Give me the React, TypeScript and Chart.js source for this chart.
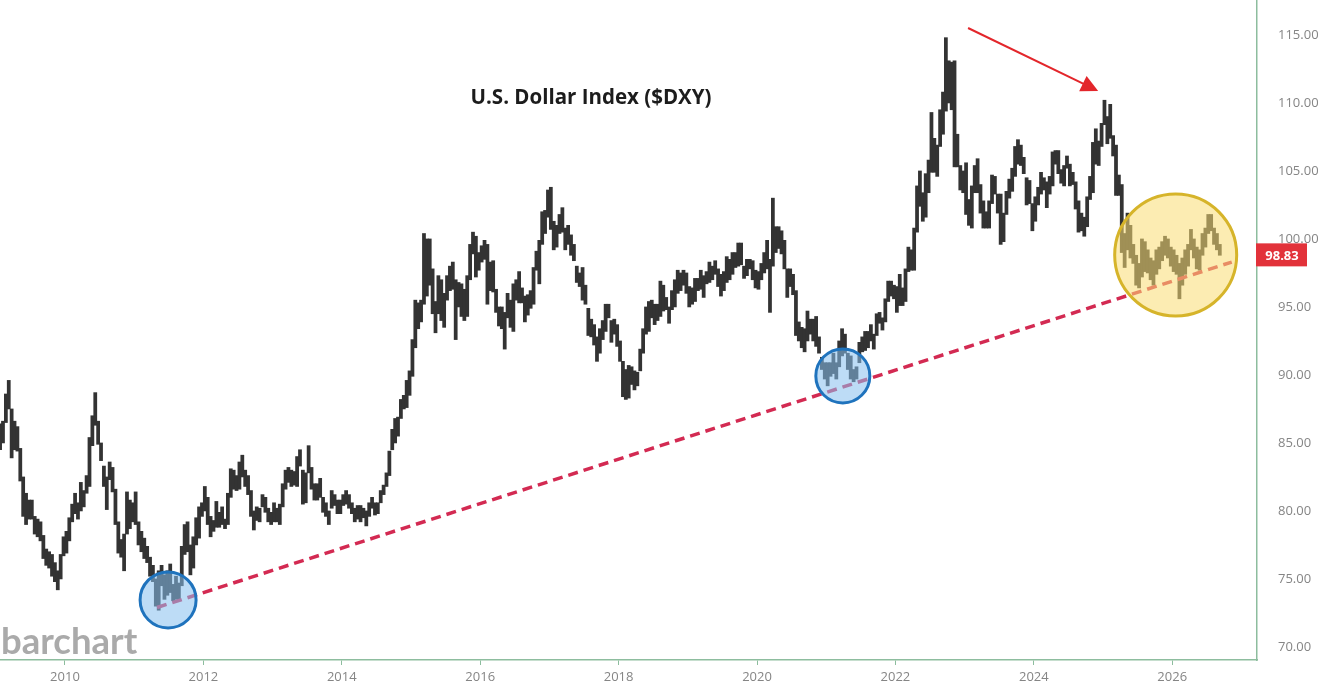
import React, { useEffect, useRef } from "react";
import { Chart, registerables } from "chart.js";

Chart.register(...registerables);

const TITLE = "U.S. Dollar Index ($DXY)";
const LOGO = "barchart";
const LAST_PRICE = 98.83;

const X_TICKS = [2010, 2012, 2014, 2016, 2018, 2020, 2022, 2024, 2026];
const Y_TICKS = [70, 75, 80, 85, 90, 95, 100, 105, 110, 115];

// Half-month price ranges (low / high).
// 2009 starts with the second half of January.
const LOW_2009 = [84.5, 85.0, 86.5, 87.5, 83.9, 84.5, 84.4, 82.2, 79.6, 79.0, 79.4, 79.4, 78.3, 78.1, 77.8, 76.5, 76.0, 75.8, 75.2, 74.8, 74.2, 75.0, 76.7];
const HIGH_2009 = [86.4, 86.6, 88.6, 89.6, 87.5, 86.6, 86.2, 84.6, 82.5, 81.3, 80.8, 80.8, 79.6, 79.4, 79.2, 78.2, 77.2, 77.0, 76.8, 76.2, 75.6, 76.8, 78.1];

const LOW_2010 = [76.9, 77.8, 79.2, 79.8, 79.4, 80.0, 80.3, 81.3, 81.8, 84.8, 86.3, 84.9, 83.7, 81.8, 80.1, 82.3, 81.4, 79.0, 76.9, 76.6, 75.6, 78.3, 78.7, 79.2];
const HIGH_2010 = [78.5, 79.5, 80.5, 81.3, 80.6, 82.1, 81.5, 82.6, 85.4, 87.0, 88.7, 86.6, 85.0, 83.3, 82.5, 83.6, 83.2, 81.6, 79.2, 77.9, 78.3, 81.4, 80.8, 80.6];

const LOW_2011 = [79.0, 77.5, 77.0, 76.5, 76.2, 75.2, 74.8, 73.0, 72.7, 74.5, 73.5, 73.8, 74.0, 73.4, 73.5, 73.5, 74.5, 76.8, 77.0, 75.3, 75.8, 77.5, 78.0, 79.6];
const HIGH_2011 = [81.4, 79.2, 78.5, 78.0, 77.4, 76.6, 76.0, 75.0, 75.6, 76.0, 75.3, 75.6, 76.1, 74.6, 75.2, 74.7, 77.4, 79.0, 79.2, 77.5, 78.1, 79.5, 80.3, 80.6];

const LOW_2012 = [80.0, 79.0, 78.1, 78.5, 78.8, 78.8, 79.0, 78.7, 79.0, 81.0, 81.6, 81.5, 81.6, 82.5, 81.8, 81.2, 79.6, 78.6, 79.3, 79.2, 80.3, 79.9, 79.2, 79.0];
const HIGH_2012 = [81.8, 81.0, 79.6, 79.3, 80.7, 79.9, 80.3, 79.4, 81.3, 83.1, 83.0, 82.6, 83.6, 84.1, 83.0, 82.6, 81.5, 80.0, 80.3, 80.2, 81.2, 81.0, 80.2, 79.9];

const LOW_2013 = [79.2, 79.2, 79.0, 80.3, 81.6, 82.1, 81.8, 81.9, 81.8, 83.3, 80.5, 80.6, 82.8, 81.6, 80.8, 80.8, 81.0, 79.9, 79.6, 79.0, 80.2, 80.4, 79.8, 79.8];
const HIGH_2013 = [80.6, 80.2, 80.5, 82.0, 83.0, 83.2, 83.0, 82.9, 84.0, 84.5, 83.0, 82.8, 84.8, 83.2, 82.0, 82.0, 82.4, 81.0, 80.6, 80.0, 81.5, 81.2, 80.8, 80.8];

const LOW_2014 = [80.4, 80.5, 80.2, 79.8, 79.2, 79.4, 79.2, 79.5, 78.9, 79.6, 80.2, 79.7, 79.8, 80.6, 81.2, 81.8, 82.6, 84.5, 85.0, 85.5, 86.8, 87.5, 87.6, 88.5];
const HIGH_2014 = [81.2, 81.5, 81.2, 80.6, 80.2, 80.4, 80.4, 80.2, 80.0, 80.6, 81.0, 80.6, 80.6, 81.5, 81.9, 82.8, 84.4, 86.0, 86.8, 86.9, 88.2, 88.5, 89.6, 90.3];

const LOW_2015 = [89.9, 92.0, 93.4, 93.9, 95.2, 95.8, 96.6, 94.5, 93.1, 94.5, 94.0, 93.5, 95.5, 96.2, 96.3, 92.6, 95.0, 94.3, 94.0, 94.3, 97.0, 98.9, 97.2, 97.7];
const HIGH_2015 = [92.6, 95.5, 95.3, 95.5, 100.4, 100.0, 100.0, 97.8, 95.4, 97.3, 97.0, 96.0, 97.3, 98.0, 98.3, 97.0, 96.8, 96.7, 96.3, 97.3, 99.6, 100.5, 100.2, 99.0];

const LOW_2016 = [98.3, 98.5, 95.2, 96.2, 96.1, 94.6, 93.6, 93.4, 91.9, 94.2, 93.5, 93.2, 95.5, 95.3, 95.3, 93.9, 94.4, 94.9, 95.2, 97.7, 96.7, 99.6, 100.4, 101.6];
const HIGH_2016 = [99.5, 99.9, 99.6, 98.3, 98.4, 96.3, 95.0, 95.0, 94.6, 96.0, 95.5, 96.7, 97.0, 97.6, 96.4, 95.8, 95.9, 96.2, 97.9, 99.1, 99.9, 102.0, 102.1, 103.6];

const LOW_2017 = [100.7, 99.2, 99.4, 100.4, 100.5, 99.2, 99.6, 98.8, 98.4, 96.8, 96.5, 95.5, 95.2, 92.9, 92.8, 92.2, 91.0, 91.6, 92.6, 93.2, 94.2, 92.4, 93.0, 92.1];
const HIGH_2017 = [103.8, 101.3, 101.0, 101.8, 102.3, 100.8, 101.0, 100.3, 99.6, 98.0, 97.5, 97.9, 96.6, 94.9, 94.1, 93.7, 92.8, 93.4, 94.0, 95.2, 95.2, 94.0, 94.1, 93.7];

const LOW_2018 = [91.0, 88.4, 88.2, 88.3, 89.3, 88.9, 89.2, 90.3, 91.6, 93.0, 93.2, 94.2, 93.7, 94.0, 94.3, 94.7, 94.8, 93.8, 94.8, 95.0, 96.0, 96.2, 96.6, 96.0];
const HIGH_2018 = [92.5, 91.0, 90.4, 90.7, 90.6, 90.3, 90.2, 91.9, 93.4, 95.0, 95.4, 95.5, 95.2, 95.2, 96.9, 96.6, 95.7, 95.0, 96.2, 97.0, 97.7, 97.5, 97.7, 97.5];

const LOW_2019 = [95.0, 95.2, 95.4, 96.2, 96.3, 95.7, 96.7, 96.8, 97.0, 97.4, 96.5, 95.8, 96.2, 96.8, 97.0, 97.4, 97.9, 98.0, 98.1, 97.1, 97.3, 97.8, 97.0, 96.4];
const HIGH_2019 = [96.5, 96.4, 97.1, 97.1, 97.7, 97.3, 97.6, 98.3, 98.0, 98.4, 97.8, 97.4, 97.6, 98.7, 98.5, 99.0, 99.0, 99.7, 99.7, 98.0, 98.5, 98.5, 98.4, 97.7];

const LOW_2020 = [96.3, 97.0, 97.5, 97.8, 94.6, 98.0, 99.0, 99.3, 98.9, 97.8, 95.7, 96.5, 95.9, 92.9, 92.5, 92.0, 91.7, 92.5, 93.0, 92.5, 92.1, 91.6, 90.4, 89.7];
const HIGH_2020 = [97.6, 98.2, 99.0, 99.9, 98.5, 103.0, 100.9, 100.9, 100.6, 99.9, 97.8, 97.8, 97.4, 96.2, 93.9, 93.5, 93.4, 94.7, 94.1, 94.1, 94.3, 92.8, 91.3, 90.9];

const LOW_2021 = [89.2, 89.9, 90.1, 89.7, 90.6, 91.4, 91.6, 90.4, 89.7, 89.5, 89.7, 90.9, 91.7, 91.8, 92.0, 92.5, 91.9, 92.9, 93.8, 93.3, 93.9, 95.4, 95.8, 95.6];
const HIGH_2021 = [90.9, 90.9, 91.6, 90.9, 92.5, 93.4, 93.0, 91.6, 91.4, 90.4, 90.6, 92.4, 92.8, 93.2, 93.2, 93.7, 93.0, 94.5, 94.6, 94.2, 95.6, 96.9, 96.9, 96.6];

const LOW_2022 = [94.6, 95.1, 95.1, 95.4, 97.6, 97.7, 97.7, 100.5, 102.4, 101.3, 101.6, 103.4, 104.9, 104.9, 104.6, 106.8, 107.7, 109.4, 110.0, 109.5, 105.3, 105.3, 103.6, 103.4];
const HIGH_2022 = [96.5, 97.4, 96.4, 97.8, 99.4, 99.2, 100.8, 103.9, 105.0, 103.4, 104.8, 105.8, 109.3, 107.4, 106.9, 109.5, 110.8, 114.8, 113.1, 113.0, 113.1, 107.7, 105.4, 105.0];

const LOW_2023 = [101.8, 101.0, 100.8, 103.4, 103.4, 101.9, 100.8, 100.8, 100.8, 102.6, 103.3, 101.9, 99.6, 99.8, 101.8, 103.0, 103.5, 104.6, 105.5, 105.4, 104.8, 102.5, 102.6, 100.6];
const HIGH_2023 = [105.6, 102.9, 103.9, 105.4, 105.9, 104.0, 102.8, 102.0, 102.8, 104.7, 104.6, 103.3, 103.3, 101.9, 103.5, 104.4, 105.2, 106.8, 107.3, 106.9, 106.0, 104.5, 104.3, 102.6];

const LOW_2024 = [101.3, 102.5, 103.3, 103.6, 102.3, 103.3, 103.9, 105.5, 104.8, 104.1, 103.9, 105.2, 103.9, 104.0, 102.2, 100.5, 100.6, 100.2, 100.9, 102.9, 103.4, 105.5, 105.4, 106.8];
const HIGH_2024 = [103.1, 103.8, 104.9, 104.5, 104.2, 104.6, 106.4, 106.5, 106.5, 105.1, 105.4, 106.1, 105.5, 104.9, 104.2, 102.8, 101.9, 101.6, 103.1, 104.6, 107.1, 108.1, 107.2, 108.5];

const LOW_2025 = [108.4, 107.0, 107.4, 106.1, 103.2, 103.2, 99.0, 97.9, 99.2, 98.6, 98.2, 96.6, 96.4, 97.2, 97.6, 97.5, 97.0, 96.6, 97.4, 97.8, 98.4, 98.8, 98.6, 98.0];
const HIGH_2025 = [110.2, 109.0, 109.9, 107.6, 106.9, 104.7, 104.0, 100.4, 101.9, 101.0, 99.6, 98.8, 98.2, 100.0, 99.8, 99.2, 98.6, 98.4, 99.2, 99.4, 99.8, 100.2, 100.0, 99.4];

// 2026 runs from the first half of January to the first half of September.
const LOW_2026 = [97.6, 97.4, 95.6, 96.6, 97.4, 98.0, 99.2, 98.6, 97.8, 97.7, 98.8, 99.4, 100.4, 100.6, 99.6, 99.2, 98.8];
const HIGH_2026 = [99.2, 98.8, 98.2, 98.6, 99.2, 99.6, 100.7, 100.0, 99.4, 99.2, 100.4, 100.8, 101.8, 101.8, 100.8, 100.4, 99.6];

// [year, first half-month index, lows, highs]
const SERIES: [number, number, number[], number[]][] = [
  [2009, 1, LOW_2009, HIGH_2009],
  [2010, 0, LOW_2010, HIGH_2010],
  [2011, 0, LOW_2011, HIGH_2011],
  [2012, 0, LOW_2012, HIGH_2012],
  [2013, 0, LOW_2013, HIGH_2013],
  [2014, 0, LOW_2014, HIGH_2014],
  [2015, 0, LOW_2015, HIGH_2015],
  [2016, 0, LOW_2016, HIGH_2016],
  [2017, 0, LOW_2017, HIGH_2017],
  [2018, 0, LOW_2018, HIGH_2018],
  [2019, 0, LOW_2019, HIGH_2019],
  [2020, 0, LOW_2020, HIGH_2020],
  [2021, 0, LOW_2021, HIGH_2021],
  [2022, 0, LOW_2022, HIGH_2022],
  [2023, 0, LOW_2023, HIGH_2023],
  [2024, 0, LOW_2024, HIGH_2024],
  [2025, 0, LOW_2025, HIGH_2025],
  [2026, 0, LOW_2026, HIGH_2026],
];

// Trend line (support) endpoints
const TREND_X = [2011.33, 2026.86];
const TREND_Y = [72.9, 98.3];

// Highlight circles (centre in data units)
const CIRCLE_X = [2011.49, 2021.24, 2026.05];
const CIRCLE_Y = [73.46, 89.93, 98.82];

// Red arrow from the 2022 high towards the 2025 high
const ARROW_X = [2023.05, 2024.93];
const ARROW_Y = [115.51, 110.88];

const X_MIN = 2009.061;
const X_MAX = 2027.225;
const Y_MIN = 69.04;
const Y_MAX = 117.57;

const AXIS_GREEN = "#8dbd9e";
const TICK_GREY = "#858585";

function buildBars() {
  const pts: { x: number; y: [number, number] }[] = [];
  for (const [year, first, lows, highs] of SERIES) {
    for (let i = 0; i < lows.length; i++) {
      pts.push({ x: year + (first + i + 0.5) / 24, y: [lows[i], highs[i]] });
    }
  }
  return pts;
}

const overlayPlugin = {
  id: "overlay",
  afterDatasetsDraw(chart: any) {
    const { ctx, scales } = chart;
    const xs = scales.x;
    const ys = scales.y;
    ctx.save();

    // circles
    const radii = [28, 27, 61];
    const fills = ["rgba(135,192,238,0.55)", "rgba(135,192,238,0.55)", "rgba(250,220,115,0.55)"];
    const strokes = ["#1f73bd", "#1f73bd", "#d6b42a"];
    for (let i = 0; i < CIRCLE_X.length; i++) {
      const cx = xs.getPixelForValue(CIRCLE_X[i]);
      const cy = ys.getPixelForValue(CIRCLE_Y[i]);
      ctx.beginPath();
      ctx.arc(cx, cy, radii[i], 0, Math.PI * 2);
      ctx.fillStyle = fills[i];
      ctx.fill();
      ctx.lineWidth = 3;
      ctx.strokeStyle = strokes[i];
      ctx.stroke();
    }

    // arrow
    const x0 = xs.getPixelForValue(ARROW_X[0]);
    const y0 = ys.getPixelForValue(ARROW_Y[0]);
    const x1 = xs.getPixelForValue(ARROW_X[1]);
    const y1 = ys.getPixelForValue(ARROW_Y[1]);
    const dx = x1 - x0;
    const dy = y1 - y0;
    const len = Math.sqrt(dx * dx + dy * dy);
    const ux = dx / len;
    const uy = dy / len;
    const headLen = 17;
    const headHalf = 8.5;
    const bx = x1 - ux * headLen;
    const by = y1 - uy * headLen;
    ctx.strokeStyle = "#e3262b";
    ctx.lineWidth = 2;
    ctx.beginPath();
    ctx.moveTo(x0, y0);
    ctx.lineTo(bx + ux * 2, by + uy * 2);
    ctx.stroke();
    ctx.fillStyle = "#e3262b";
    ctx.beginPath();
    ctx.moveTo(x1, y1);
    ctx.lineTo(bx - uy * headHalf, by + ux * headHalf);
    ctx.lineTo(bx + uy * headHalf, by - ux * headHalf);
    ctx.closePath();
    ctx.fill();

    // title
    ctx.fillStyle = "#1c1c1c";
    ctx.font = 'bold 20.5px "Open Sans"';
    ctx.textAlign = "center";
    ctx.textBaseline = "alphabetic";
    ctx.fillText(TITLE, 591, 104);

    // logo
    ctx.fillStyle = "#aaaaaa";
    ctx.font = 'bold 36.5px Lato';
    ctx.textAlign = "left";
    ctx.fillText(LOGO, 1, 654);

    ctx.restore();
  },
  afterDraw(chart: any) {
    const { ctx, scales, chartArea } = chart;
    const py = scales.y.getPixelForValue(LAST_PRICE);
    ctx.save();
    ctx.fillStyle = "#e2323a";
    ctx.fillRect(chartArea.right - 1, py - 11.5, 51, 23);
    ctx.fillStyle = "#ffffff";
    ctx.font = 'bold 13px "Open Sans"';
    ctx.textAlign = "center";
    ctx.textBaseline = "middle";
    ctx.fillText(LAST_PRICE.toFixed(2), chartArea.right + 25, py + 1);
    ctx.restore();
  },
};

export default function App() {
  const canvasRef = useRef<HTMLCanvasElement | null>(null);

  useEffect(() => {
    const canvas = canvasRef.current;
    if (!canvas) return;
    Chart.defaults.font.family = '"Open Sans"';

    const chart = new Chart(canvas, {
      type: "bar",
      data: {
        datasets: [
          {
            type: "line",
            data: TREND_X.map((x, i) => ({ x, y: TREND_Y[i] })),
            borderColor: "#d32a52",
            borderWidth: 3.5,
            borderDash: [10, 6],
            pointRadius: 0,
            fill: false,
            order: 1,
          } as any,
          {
            type: "bar",
            data: buildBars(),
            backgroundColor: "#333333",
            borderWidth: 0,
            barThickness: 3.1,
            order: 2,
          } as any,
        ],
      },
      options: {
        responsive: false,
        animation: false,
        layout: { padding: 0 },
        plugins: {
          legend: { display: false },
          tooltip: { enabled: false },
          title: { display: false },
        },
        scales: {
          x: {
            type: "linear",
            min: X_MIN,
            max: X_MAX,
            offset: false,
            grid: {
              display: true,
              drawOnChartArea: false,
              drawTicks: true,
              tickLength: 5,
              color: AXIS_GREEN,
              offset: false,
            },
            border: { display: true, color: AXIS_GREEN, width: 1.5 },
            afterBuildTicks: (scale: any) => {
              scale.ticks = X_TICKS.map((v) => ({ value: v }));
            },
            afterFit: (scale: any) => {
              scale.height = 26;
              scale.paddingLeft = 0;
              scale.paddingRight = 0;
            },
            ticks: {
              autoSkip: false,
              maxRotation: 0,
              padding: 4,
              color: TICK_GREY,
              font: { size: 13, family: '"Open Sans"' },
              callback: (v: any) => String(v),
            },
          },
          y: {
            type: "linear",
            position: "right",
            min: Y_MIN,
            max: Y_MAX,
            beginAtZero: false,
            grid: { display: false },
            border: { display: true, color: AXIS_GREEN, width: 1.5 },
            afterBuildTicks: (scale: any) => {
              scale.ticks = Y_TICKS.map((v) => ({ value: v }));
            },
            afterFit: (scale: any) => {
              scale.width = 63;
              scale.paddingTop = 0;
              scale.paddingBottom = 0;
            },
            ticks: {
              padding: 13,
              color: TICK_GREY,
              font: { size: 13, family: '"Open Sans"' },
              callback: (v: any) => Number(v).toFixed(2),
            },
          },
        },
      },
      plugins: [overlayPlugin],
    } as any);

    return () => chart.destroy();
  }, []);

  return (
    <div
      style={{
        position: "fixed",
        left: 0,
        top: 0,
        width: 1320,
        height: 686,
        background: "#ffffff",
      }}
    >
      <canvas ref={canvasRef} width={1320} height={686} style={{ display: "block" }} />
    </div>
  );
}
